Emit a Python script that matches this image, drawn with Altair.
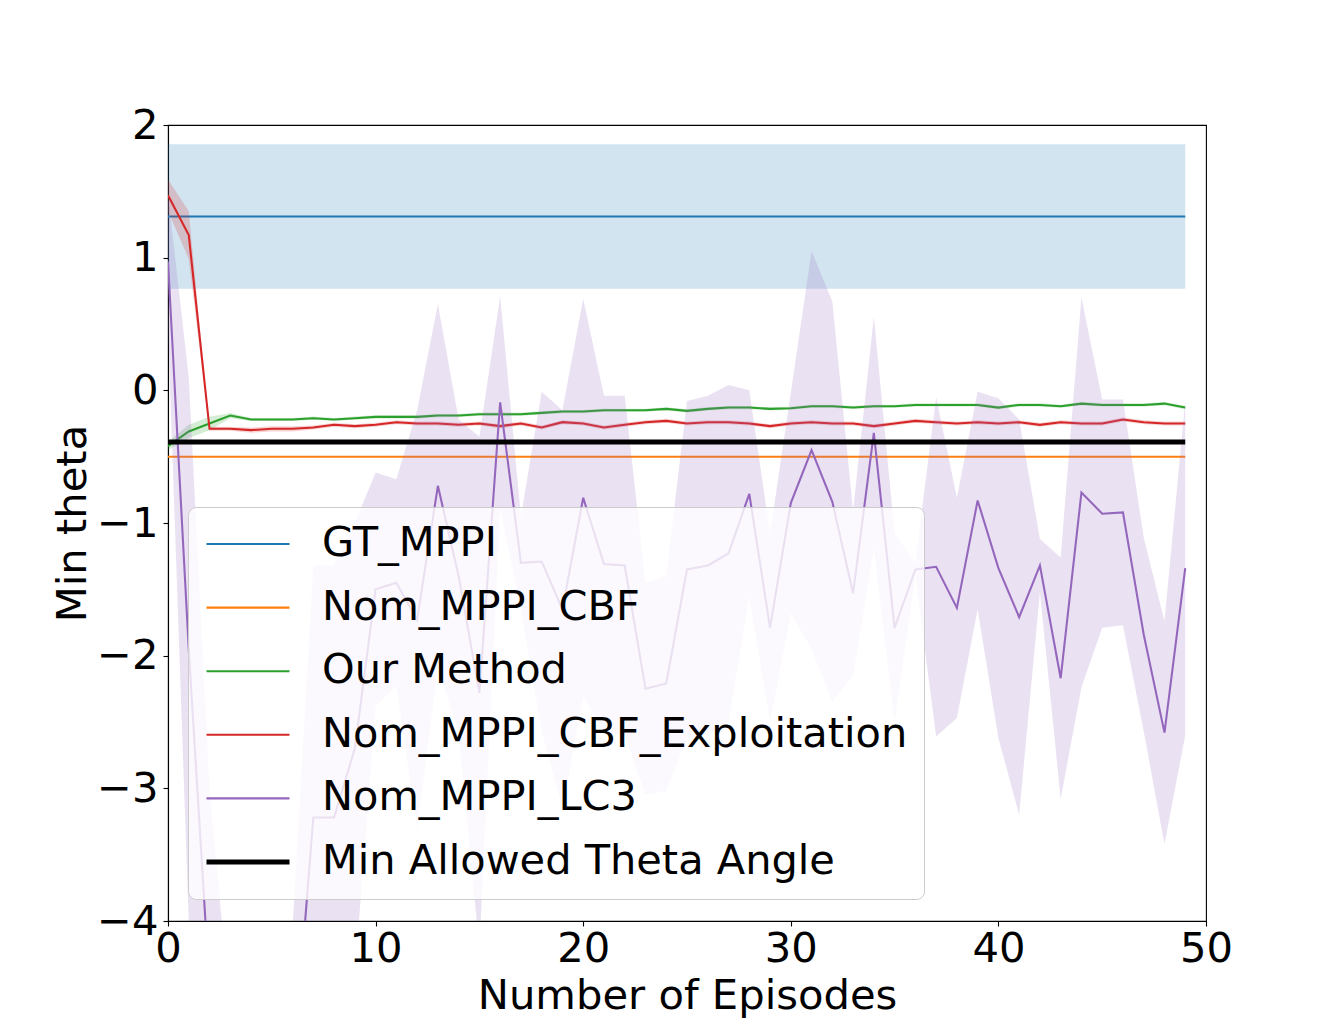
import altair as alt
import pandas as pd

episodes = list(range(50))

series_names = ["GT_MPPI", "Nom_MPPI_CBF", "Our Method",
                "Nom_MPPI_CBF_Exploitation", "Nom_MPPI_LC3", "Min Allowed Theta Angle"]
series_colors = ["#1f77b4", "#ff7f0e", "#2ca02c", "#d62728", "#9467bd", "#000000"]
series_widths = [2.08, 2.08, 2.08, 2.08, 2.08, 5]

gt_mean = 1.31
gt_std = 0.545
nom_cbf_value = -0.50
min_allowed_value = -0.39

our_mean = [-0.42, -0.31, -0.25, -0.19, -0.22, -0.22, -0.22, -0.21, -0.22, -0.21,
            -0.20, -0.20, -0.20, -0.19, -0.19, -0.18, -0.18, -0.18, -0.17, -0.16,
            -0.16, -0.15, -0.15, -0.15, -0.14, -0.155, -0.14, -0.13, -0.13, -0.14,
            -0.135, -0.12, -0.12, -0.13, -0.12, -0.12, -0.11, -0.11, -0.11, -0.11,
            -0.13, -0.11, -0.11, -0.12, -0.10, -0.11, -0.11, -0.11, -0.10, -0.13]
our_std = [0.03, 0.05, 0.05, 0.02, 0.012, 0.012, 0.012, 0.012, 0.012, 0.012,
           0.012, 0.012, 0.012, 0.012, 0.012, 0.012, 0.012, 0.012, 0.012, 0.012,
           0.012, 0.012, 0.012, 0.012, 0.012, 0.012, 0.012, 0.012, 0.012, 0.012,
           0.012, 0.012, 0.012, 0.012, 0.012, 0.012, 0.012, 0.012, 0.012, 0.012,
           0.012, 0.012, 0.012, 0.012, 0.012, 0.012, 0.012, 0.012, 0.012, 0.012]

expl_mean = [1.47, 1.17, -0.29, -0.29, -0.30, -0.29, -0.29, -0.28, -0.26, -0.27,
             -0.26, -0.24, -0.25, -0.25, -0.26, -0.25, -0.27, -0.25, -0.28, -0.24,
             -0.25, -0.28, -0.26, -0.24, -0.23, -0.25, -0.24, -0.24, -0.25, -0.27,
             -0.25, -0.24, -0.25, -0.25, -0.27, -0.25, -0.23, -0.24, -0.25, -0.24,
             -0.25, -0.24, -0.26, -0.24, -0.25, -0.25, -0.22, -0.24, -0.25, -0.25]
expl_std = [0.12, 0.18, 0.015, 0.015, 0.02, 0.02, 0.02, 0.015, 0.015, 0.015,
            0.015, 0.015, 0.015, 0.015, 0.015, 0.015, 0.015, 0.015, 0.015, 0.015,
            0.015, 0.015, 0.015, 0.015, 0.015, 0.015, 0.015, 0.015, 0.015, 0.015,
            0.015, 0.015, 0.015, 0.015, 0.015, 0.015, 0.015, 0.015, 0.015, 0.015,
            0.015, 0.015, 0.015, 0.015, 0.015, 0.015, 0.015, 0.015, 0.015, 0.015]

lc3_mean = [0.97, -1.95, -4.5, -5.5, -6.0, -5.8, -5.2, -3.22, -3.22, -2.7,
            -1.50, -1.45, -1.73, -0.72, -1.40, -2.28, -0.09, -1.30, -1.29, -1.65,
            -0.81, -1.31, -1.32, -2.25, -2.21, -1.35, -1.32, -1.23, -0.78, -1.79,
            -0.85, -0.45, -0.84, -1.53, -0.32, -1.79, -1.35, -1.33, -1.64, -0.83,
            -1.34, -1.71, -1.32, -2.17, -0.77, -0.93, -0.92, -1.84, -2.58, -1.34]
lc3_std = [0.50, 2.05, 1.50, 0.80, 0.90, 0.80, 1.15, 1.90, 1.90, 1.70,
           0.88, 0.78, 1.58, 1.37, 1.18, 1.93, 0.80, 0.35, 1.28, 1.50,
           1.50, 1.27, 1.28, 0.80, 0.81, 1.27, 1.28, 1.27, 0.78, 0.71,
           0.83, 1.50, 1.51, 0.62, 0.875, 0.71, 0.05, 1.28, 0.83, 0.82,
           1.28, 1.49, 0.20, 0.91, 1.47, 0.86, 0.85, 0.73, 0.84, 1.26]

FONT = "DejaVu Sans"
FS = 41.7

# ---- build tables -------------------------------------------------------
line_rows, band_rows = [], []
def add(name, means, stds=None):
    for e, m in zip(episodes, means):
        line_rows.append({"episode": e, "value": m, "series": name})
    if stds is not None:
        for e, m, s in zip(episodes, means, stds):
            band_rows.append({"episode": e, "lo": m - s, "hi": m + s, "series": name})

add("GT_MPPI", [gt_mean] * len(episodes), [gt_std] * len(episodes))
add("Nom_MPPI_CBF", [nom_cbf_value] * len(episodes))
add("Our Method", our_mean, our_std)
add("Nom_MPPI_CBF_Exploitation", expl_mean, expl_std)
add("Nom_MPPI_LC3", lc3_mean, lc3_std)
add("Min Allowed Theta Angle", [min_allowed_value] * len(episodes))

lines_df = pd.DataFrame(line_rows)
bands_df = pd.DataFrame(band_rows)

x_enc = alt.X("episode:Q", scale=alt.Scale(domain=[0, 50], nice=False, zero=False),
              axis=alt.Axis(values=[0, 10, 20, 30, 40, 50], title="Number of Episodes",
                            labelFlush=False, labelOverlap=False))
y_axis = alt.Axis(values=[-4, -3, -2, -1, 0, 1, 2], title="Min theta",
                  labelFlush=False, labelOverlap=False)
y_scale = alt.Scale(domain=[-4, 2], nice=False, zero=False)

def make_legend():
    return alt.Legend(
        title=None, orient="none", legendX=20, legendY=382,
        symbolType="stroke", symbolSize=6889, clipHeight=42,
        labelFont=FONT, labelFontSize=41.5, labelColor="black", labelLimit=0,
        labelOffset=30, rowPadding=21.6, padding=16,
        fillColor="rgba(255,255,255,0.8)", strokeColor="#cccccc", cornerRadius=8,
    )

color_enc = alt.Color("series:N",
                      scale=alt.Scale(domain=series_names, range=series_colors),
                      legend=make_legend())
width_enc = alt.StrokeWidth("series:N",
                            scale=alt.Scale(type="ordinal", domain=series_names,
                                            range=series_widths),
                            legend=make_legend())

band_names = set(bands_df["series"])
layers = []
for name, col, sw in zip(series_names, series_colors, series_widths):
    if name in band_names:
        layers.append(
            alt.Chart(bands_df).transform_filter(alt.datum.series == name)
            .mark_area(color=col, opacity=0.2, clip=True, interpolate="linear")
            .encode(x=x_enc,
                    y=alt.Y("lo:Q", scale=y_scale, axis=y_axis),
                    y2="hi:Q")
        )
    layers.append(
        alt.Chart(lines_df).transform_filter(alt.datum.series == name)
        .mark_line(clip=True, interpolate="linear", strokeWidth=sw)
        .encode(x=x_enc,
                y=alt.Y("value:Q", scale=y_scale, axis=y_axis),
                color=color_enc, strokeWidth=width_enc)
    )

chart = alt.layer(*layers).properties(
    width=1038, height=796,
    autosize=alt.AutoSizeParams(type="none"),
    padding={"left": 160, "top": 117, "right": 126, "bottom": 105},
    background="white",
).configure_view(
    stroke="black", strokeWidth=1.1
).configure_axis(
    grid=False, domainColor="black", domainWidth=1.1,
    tickColor="black", tickWidth=1.1, tickSize=5,
    labelFont=FONT, labelFontSize=FS, labelColor="black", labelPadding=5,
    titleFont=FONT, titleFontSize=FS, titleFontWeight="normal", titleColor="black",
).configure_axisX(titlePadding=6, labelPadding=2).configure_axisY(titlePadding=2)

chart.save("out.html", embed_options={"renderer": "svg", "actions": False})
